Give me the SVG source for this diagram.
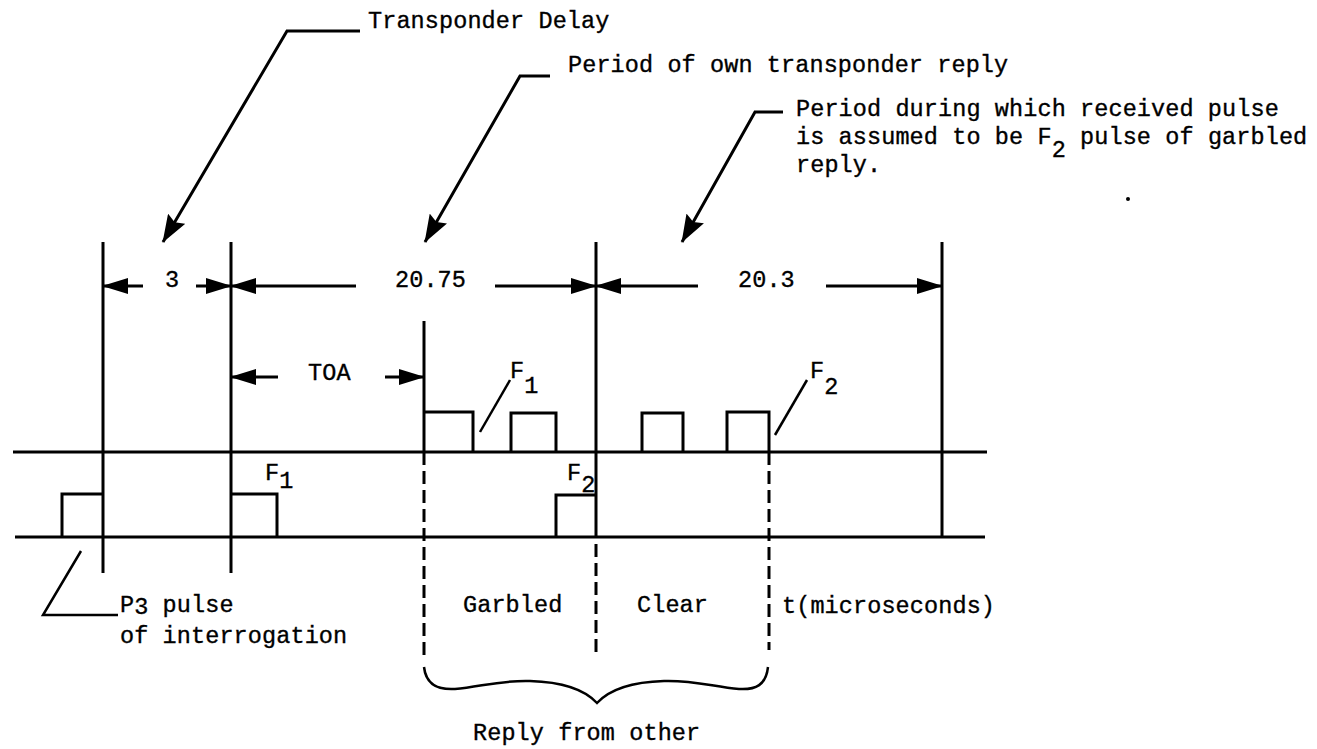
<svg xmlns="http://www.w3.org/2000/svg" width="1317" height="749" viewBox="0 0 1317 749">
<style>
  .ln { stroke: #000; stroke-width: 3; fill: none; stroke-linecap: butt; }
  .thin { stroke: #000; stroke-width: 2.5; fill: none; }
  .dash { stroke: #000; stroke-width: 3; fill: none; stroke-dasharray: 13 6; }
  .t { font-family: "Liberation Mono", "DejaVu Sans Mono", monospace; font-size: 23.5px; letter-spacing: 0.1px; fill: #000; stroke: #000; stroke-width: 0.35; }
</style>
<defs>
  <marker id="dimArrow" markerUnits="userSpaceOnUse" markerWidth="26" markerHeight="16" refX="25" refY="8" orient="auto">
    <path d="M0,0 L26,8 L0,16 z" fill="#000"/>
  </marker>
  <marker id="leadArrow" markerUnits="userSpaceOnUse" markerWidth="28" markerHeight="20" refX="27" refY="10" orient="auto">
    <path d="M0,0 L28,10 L0,20 L4,10 z" fill="#000"/>
  </marker>
</defs>
<rect width="1317" height="749" fill="#fff"/>

<g id="axes">
  <line class="ln" x1="13" y1="452" x2="987" y2="452"/>
  <line class="ln" x1="15" y1="537" x2="985" y2="537"/>
</g>

<g id="markers-vertical">
  <line class="ln" x1="103" y1="242" x2="103" y2="573"/>
  <line class="ln" x1="231" y1="242" x2="231" y2="573"/>
  <line class="ln" x1="424" y1="321" x2="424" y2="452"/>
  <line class="dash" x1="424" y1="452" x2="424" y2="655"/>
  <line class="ln" x1="596" y1="242" x2="596" y2="537"/>
  <line class="dash" x1="596" y1="544" x2="596" y2="654"/>
  <line class="dash" x1="769" y1="452" x2="769" y2="650"/>
  <line class="ln" x1="942" y1="242" x2="942" y2="537"/>
</g>

<g id="pulses">
  <path class="ln" d="M62,537 V494 H103"/>
  <path class="ln" d="M231,494 H277 V537"/>
  <path class="ln" d="M424,412 H473 V452"/>
  <path class="ln" d="M511,452 V413 H556 V452"/>
  <path class="ln" d="M556,537 V495 H596"/>
  <path class="ln" d="M642,452 V413 H683 V452"/>
  <path class="ln" d="M727,452 V412 H769 V452"/>
</g>

<g id="connectors">
  <line class="ln" x1="143" y1="286" x2="103" y2="286" marker-end="url(#dimArrow)"/>
  <line class="ln" x1="196" y1="286" x2="231" y2="286" marker-end="url(#dimArrow)"/>
  <line class="ln" x1="356" y1="286" x2="231" y2="286" marker-end="url(#dimArrow)"/>
  <line class="ln" x1="495" y1="286" x2="596" y2="286" marker-end="url(#dimArrow)"/>
  <line class="ln" x1="698" y1="286" x2="596" y2="286" marker-end="url(#dimArrow)"/>
  <line class="ln" x1="826" y1="286" x2="942" y2="286" marker-end="url(#dimArrow)"/>
  <line class="ln" x1="278" y1="377" x2="231" y2="377" marker-end="url(#dimArrow)"/>
  <line class="ln" x1="385" y1="377" x2="424" y2="377" marker-end="url(#dimArrow)"/>
  <polyline class="ln" points="360,31 287,31 163,242" marker-end="url(#leadArrow)"/>
  <polyline class="ln" points="550,76 520,76 425,242" marker-end="url(#leadArrow)"/>
  <polyline class="ln" points="783,112 755,112 682,242" marker-end="url(#leadArrow)"/>
  <line class="thin" x1="510" y1="380" x2="480" y2="432"/>
  <line class="thin" x1="807" y1="380" x2="775" y2="435"/>
  <polyline class="thin" points="81,551 43,615 118,615"/>
  <path class="thin" d="M424,667 C426,685 438,690 455,689 C480,687 500,680 530,681 C565,682 585,690 597,703 C609,690 629,682 664,681 C694,680 714,687 739,689 C756,690 766,685 768,667"/>
</g>

<g id="labels">
  <text class="t" x="368" y="28">Transponder Delay</text>
  <text class="t" x="568" y="72">Period of own transponder reply</text>
  <text class="t" x="796" y="116">Period during which received pulse</text>
  <text class="t" x="796" y="144">is assumed to be F<tspan dy="13">2</tspan><tspan dy="-13"> pulse of garbled</tspan></text>
  <text class="t" x="796" y="172">reply.</text>
  <text class="t" x="165" y="287">3</text>
  <text class="t" x="395" y="287">20.75</text>
  <text class="t" x="738" y="287">20.3</text>
  <text class="t" x="308" y="380">TOA</text>
  <text class="t" x="510" y="378">F<tspan dy="15">1</tspan></text>
  <text class="t" x="810" y="378">F<tspan dy="16">2</tspan></text>
  <text class="t" x="265" y="480">F<tspan dy="8">1</tspan></text>
  <text class="t" x="567" y="480">F<tspan dy="12">2</tspan></text>
  <text class="t" x="120" y="612">P<tspan dy="2">3</tspan><tspan dy="-2"> pulse</tspan></text>
  <text class="t" x="120" y="643">of interrogation</text>
  <text class="t" x="463" y="612">Garbled</text>
  <text class="t" x="637" y="612">Clear</text>
  <text class="t" x="782" y="613">t(microseconds)</text>
  <text class="t" x="473" y="740">Reply from other</text>
</g>

<circle id="speck" cx="1128" cy="199" r="2" fill="#000"/>
</svg>
